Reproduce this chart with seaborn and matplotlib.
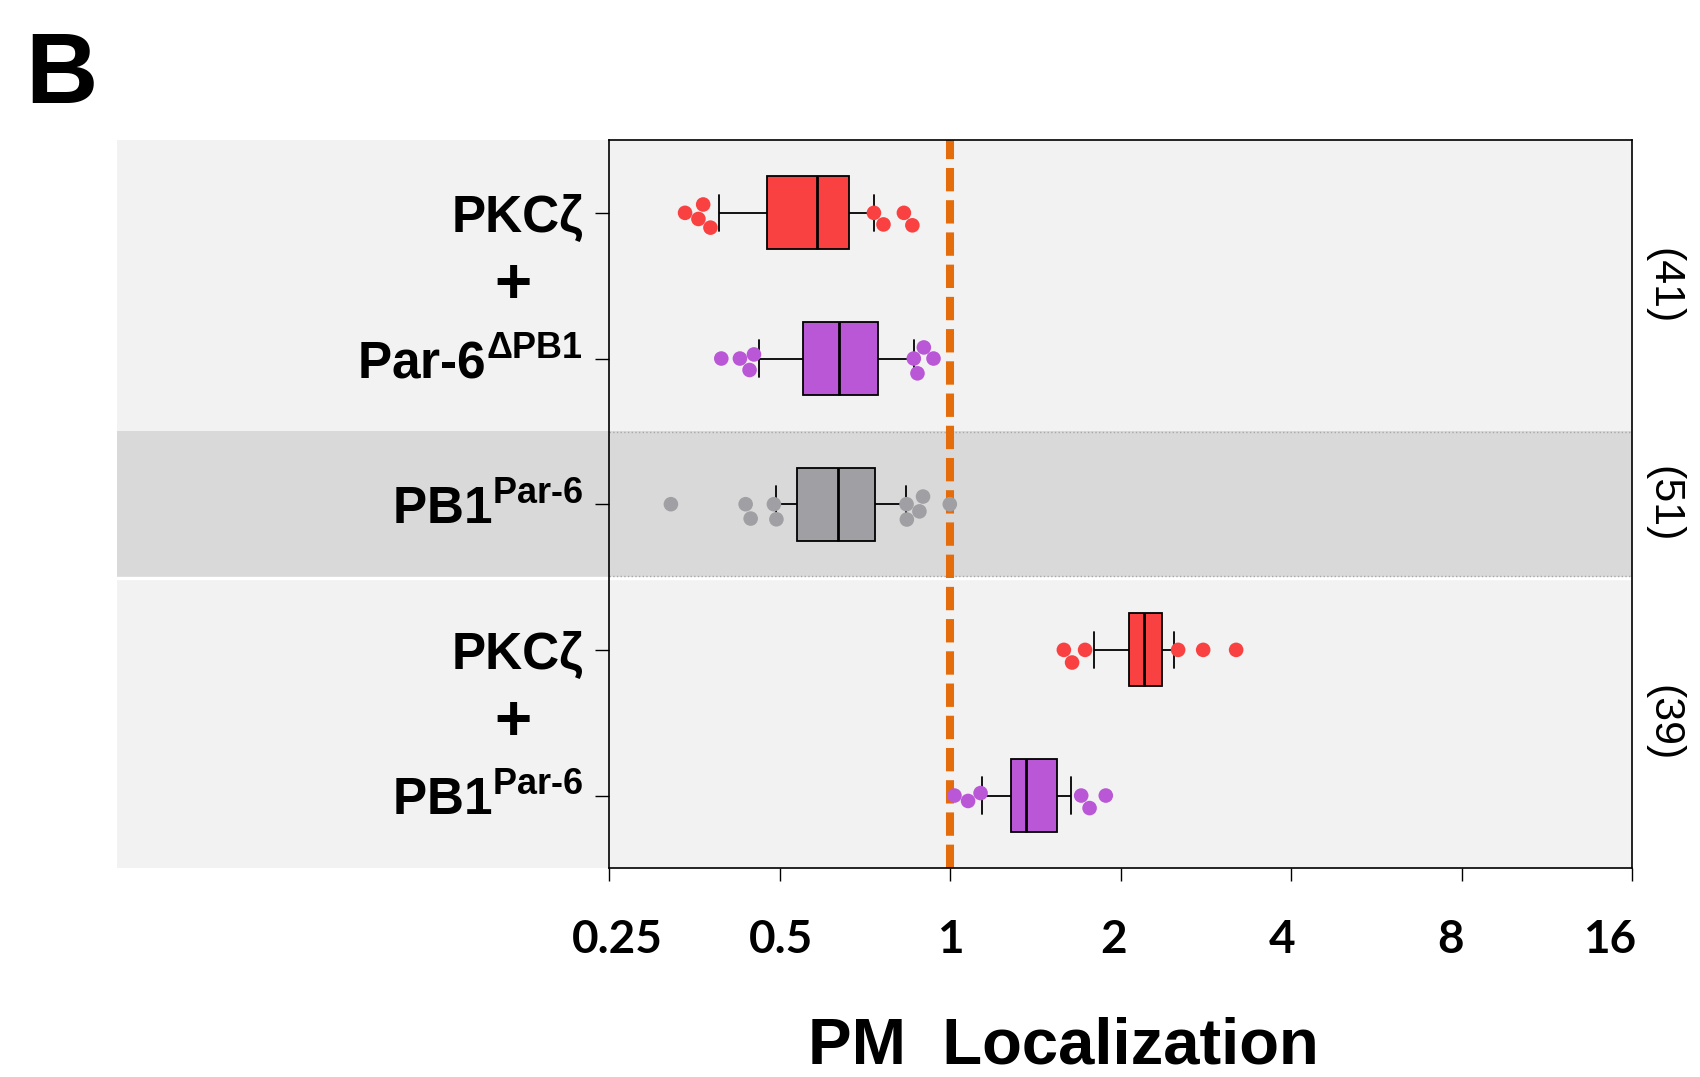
import pandas as pd
import seaborn as sns
import matplotlib.pyplot as plt
import matplotlib.ticker as ticker
import matplotlib.transforms as mtransforms

# groups, top to bottom
groups = ["PKCz (+Par-6dPB1)", "Par-6dPB1", "PB1Par-6", "PKCz (+PB1Par-6)", "PB1Par-6 (+PKCz)"]
row_labels = ["PKCζ", "Par‐6$^{ΔPB1}$", "PB1$^{Par‐6}$", "PKCζ", "PB1$^{Par‐6}$"]
box_colors = ["#FA4141", "#B957D6", "#A0A0A4", "#FA4141", "#B957D6"]
counts = ["(41)", "(51)", "(39)"]
count_rows = [0.5, 2.0, 3.5]

# box summaries: whisker low, Q1, median, Q3, whisker high
box_pkcz_a = [0.391, 0.475, 0.582, 0.663, 0.733]
box_par6_dpb1 = [0.459, 0.549, 0.635, 0.746, 0.861]
box_pb1_alone = [0.493, 0.537, 0.634, 0.735, 0.834]
box_pkcz_b = [1.793, 2.065, 2.197, 2.364, 2.482]
box_pb1_b = [1.137, 1.279, 1.358, 1.544, 1.637]

# points outside the whiskers
out_pkcz_a = [0.340, 0.359, 0.366, 0.377, 0.733, 0.762, 0.828, 0.857]
out_par6_dpb1 = [0.394, 0.425, 0.442, 0.450, 0.862, 0.875, 0.898, 0.934]
out_pb1_alone = [0.321, 0.435, 0.444, 0.488, 0.493, 0.837, 0.838, 0.882, 0.895, 0.998]
out_pkcz_b = [1.587, 1.641, 1.730, 2.526, 2.797, 3.198]
out_pb1_b = [1.017, 1.075, 1.131, 1.703, 1.762, 1.882]

x_ticks = [0.25, 0.5, 1, 2, 4, 8, 16]
x_tick_labels = ["0.25", "0.5", "1", "2", "4", "8", "16"]

boxes = [box_pkcz_a, box_par6_dpb1, box_pb1_alone, box_pkcz_b, box_pb1_b]
outs = [out_pkcz_a, out_par6_dpb1, out_pb1_alone, out_pkcz_b, out_pb1_b]
box_df = pd.DataFrame([(g, v) for g, vals in zip(groups, boxes) for v in vals], columns=["group", "value"])
out_df = pd.DataFrame([(g, v) for g, vals in zip(groups, outs) for v in vals], columns=["group", "value"])
palette = dict(zip(groups, box_colors))

sns.set_style("ticks")
plt.rcParams.update({
    "font.family": ["Liberation Sans", "DejaVu Sans"],
    "mathtext.default": "regular",
    "text.color": "black",
    "axes.labelcolor": "black",
    "xtick.color": "black",
    "ytick.color": "black",
})

fig = plt.figure(figsize=(17, 10.77), dpi=100)
ax = fig.add_axes([0.3585, 0.1937, 0.6015, 0.6763])

# background bands, reaching out under the row labels
ext = -0.482
ax.axhspan(-0.5, 1.5, xmin=ext, xmax=1, color="#F2F2F2", lw=0, zorder=0, clip_on=False)
ax.axhspan(1.5, 2.5, xmin=ext, xmax=1, color="#D9D9D9", lw=0, zorder=0, clip_on=False)
ax.axhspan(2.5, 4.5, xmin=ext, xmax=1, color="#F2F2F2", lw=0, zorder=0, clip_on=False)
ax.axhline(2.51, xmin=ext, xmax=1, color="white", lw=2.4, zorder=0.5, clip_on=False)
for yy in [1.505, 2.49]:
    ax.axhline(yy, color="#A8A8A8", lw=1, ls=":", zorder=0.6)

ax.axvline(1, color="#E46C0A", lw=5.8, dashes=(2.9, 1.1), zorder=1)

sns.boxplot(data=box_df, x="value", y="group", hue="group", order=groups, hue_order=groups,
            palette=palette, whis=(0, 100), width=0.5, log_scale=2, showfliers=False,
            saturation=1, linecolor="black", linewidth=1.3, legend=False, ax=ax,
            medianprops=dict(lw=2), zorder=2)
sns.swarmplot(data=out_df, x="value", y="group", hue="group", order=groups, hue_order=groups,
              palette=palette, size=10.5, linewidth=0, log_scale=2, legend=False, ax=ax, zorder=3)

ax.set_xlim(0.25, 16)
ax.set_ylim(4.5, -0.5)
ax.xaxis.set_major_locator(ticker.FixedLocator(x_ticks))
ax.xaxis.set_minor_locator(ticker.NullLocator())
ax.set_xticklabels(x_tick_labels, fontfamily="Lato", fontweight="bold", fontsize=33)
ax.set_yticks(range(len(groups)))
ax.set_yticklabels(row_labels, fontweight="bold", fontsize=37)
ax.tick_params(axis="x", direction="out", length=9.5, width=1, pad=27)
ax.tick_params(axis="y", direction="out", length=10, width=1, pad=9)

# the x tick labels in the original sit slightly off their ticks
label_shift_px = [8, 1, 0, -7, -9, -11, -22]
for lab, dx in zip(ax.get_xticklabels(), label_shift_px):
    lab.set_transform(lab.get_transform() + mtransforms.ScaledTranslation(dx / 100, 0, fig.dpi_scale_trans))

ax.set_ylabel("")
ax.set_xlabel("PM  Localization", fontsize=47, fontweight="bold")
ax.xaxis.label.set_va("center")
ax.xaxis.set_label_coords(0.4435, -0.245)

for s in ax.spines.values():
    s.set_visible(True)
    s.set_color("black")
    s.set_linewidth(1.2)

trans = mtransforms.blended_transform_factory(ax.transAxes, ax.transData)
for yy in [0.5, 3.5]:
    ax.text(-0.0944, yy, "+", transform=trans, ha="center", va="center",
            fontsize=46, fontweight="bold")
for lab, yy in zip(counts, count_rows):
    ax.text(1.031, yy, lab, transform=trans, ha="center", va="center",
            rotation=-90, fontsize=31)

fig.text(0.0147, 0.9725, "B", fontsize=72, fontweight="bold", ha="left", va="top")

fig.savefig("out.png", dpi=100)
